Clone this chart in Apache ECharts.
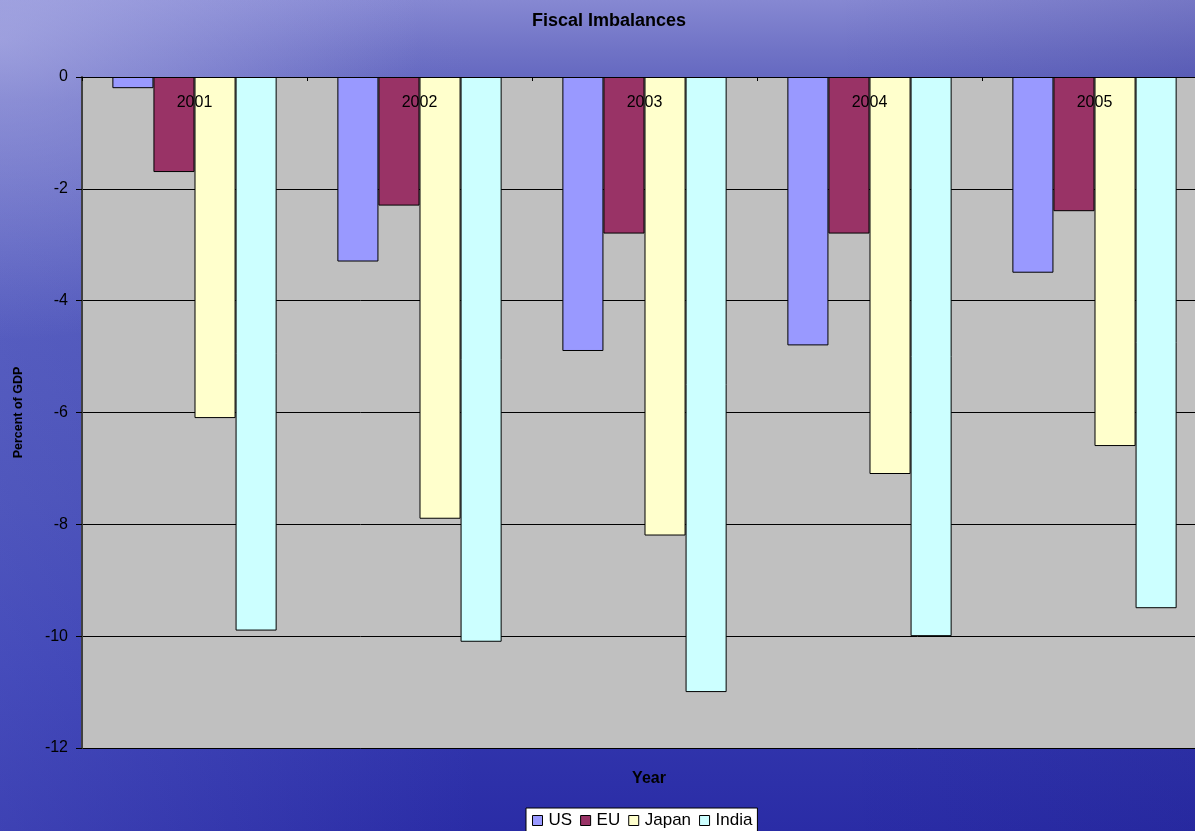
<!DOCTYPE html>
<html>
<head>
<meta charset="utf-8">
<script src="https://cdn.jsdelivr.net/npm/echarts@6/dist/echarts.min.js"></script>
<style>
html, body { margin: 0; padding: 0; width: 1195px; height: 831px; overflow: hidden; }
body {
  background:
    radial-gradient(ellipse 420px 300px at 0px 40px, rgba(190,190,235,0.55), rgba(190,190,235,0) 100%),
    linear-gradient(to right, rgba(120,130,220,0.25) 0%, rgba(120,130,220,0) 40%, rgba(20,20,120,0) 70%, rgba(20,20,120,0.15) 100%),
    linear-gradient(to bottom, #8688d2 0%, #7073c6 6%, #5c60bc 12%, #4c52b6 35%, #4248b2 60%, #353ab0 80%, #2a2ca6 100%);
}
#chart { width: 1195px; height: 831px; }
</style>
</head>
<body>
<div id="chart"></div>
<script>
var categories = ['2001', '2002', '2003', '2004', '2005'];
var usValues = [-0.2, -3.3, -4.9, -4.8, -3.5];
var euValues = [-1.7, -2.3, -2.8, -2.8, -2.4];
var japanValues = [-6.1, -7.9, -8.2, -7.1, -6.6];
var indiaValues = [-9.9, -10.1, -11.0, -10.0, -9.5];
var yTicks = [0, -2, -4, -6, -8, -10, -12];

var chart = echarts.init(document.getElementById('chart'), null, { renderer: 'canvas' });
var font = '"Liberation Sans", Arial, sans-serif';
function bar(name, data, color) {
  return {
    name: name, type: 'bar', data: data,
    barGap: '0%', barCategoryGap: '27%',
    itemStyle: { color: color, borderColor: '#000', borderWidth: 1 }
  };
}
chart.setOption({
  backgroundColor: 'transparent',
  animation: false,
  textStyle: { fontFamily: font },
  title: [
    { text: 'Fiscal Imbalances', left: 604, textAlign: 'center', top: 7,
      textStyle: { fontSize: 18, fontWeight: 'bold', color: '#000', fontFamily: font } },
    { text: 'Year', left: 644, textAlign: 'center', top: 766,
      textStyle: { fontSize: 16, fontWeight: 'bold', color: '#000', fontFamily: font } }
  ],
  legend: {
    bottom: -6, left: 526,
    backgroundColor: '#fff', borderColor: '#000', borderWidth: 1,
    padding: [4, 5, 8, 6], itemGap: 8, itemWidth: 10, itemHeight: 10,
    icon: 'rect',
    itemStyle: { borderColor: '#000', borderWidth: 1 },
    textStyle: { fontSize: 17, color: '#000', fontFamily: font, padding: [0, 0, 0, 1] },
    data: ['US', 'EU', 'Japan', 'India']
  },
  grid: {
    left: 82, top: 77, right: -12, bottom: 83,
    outerBoundsMode: 'none', containLabel: false,
    show: true, backgroundColor: '#c0c0c0', borderWidth: 0
  },
  xAxis: {
    type: 'category', data: categories, z: 5, position: 'top',
    axisLine: { onZero: false, lineStyle: { color: '#000', width: 1 } },
    axisTick: { show: true, inside: true, length: 4, lineStyle: { color: '#000' } },
    axisLabel: { inside: true, margin: 18, fontSize: 16, color: '#000', fontFamily: font }
  },
  yAxis: {
    type: 'value', min: -12, max: 0, interval: 2,
    name: 'Percent of GDP', nameLocation: 'middle', nameGap: 57, nameRotate: 90,
    nameTextStyle: { fontSize: 12.5, fontWeight: 'bold', color: '#000', fontFamily: font },
    axisLine: { show: true, lineStyle: { color: '#404040', width: 2 } },
    axisTick: { show: true, length: 6, lineStyle: { color: '#000' } },
    axisLabel: { margin: 14, fontSize: 16, color: '#000', fontFamily: font,
      formatter: function (v) { return yTicks.indexOf(v) >= 0 ? String(v) : ''; } },
    splitLine: { show: true, lineStyle: { color: '#000', width: 1 } }
  },
  series: [
    bar('US', usValues, '#9999ff'),
    bar('EU', euValues, '#993366'),
    bar('Japan', japanValues, '#ffffcc'),
    bar('India', indiaValues, '#ccffff')
  ]
});
</script>
</body>
</html>
